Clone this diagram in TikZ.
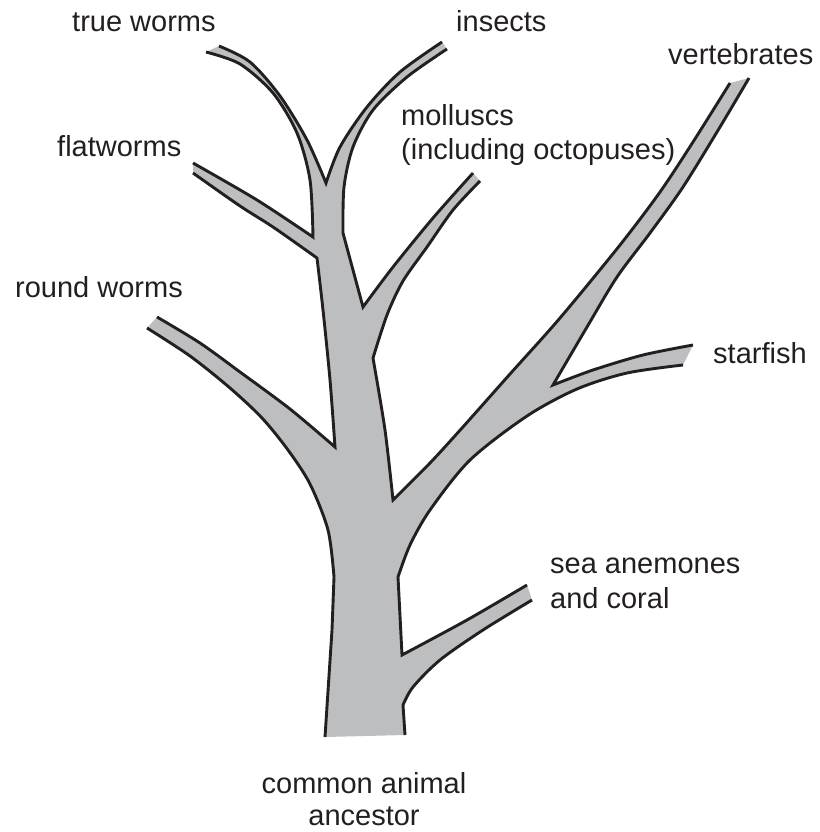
\documentclass[tikz,border=0pt]{standalone}
\usepackage{fontspec}
\setmainfont{Liberation Sans}
\definecolor{treegray}{HTML}{BCBEC0}
\definecolor{ink}{HTML}{231F20}
% edge chains of the tree outline (pixel coordinates, y downwards)
\def\pA{(325,737) -- (332,630) -- plot[smooth] coordinates {(334,577) (328,530) (310,484) (288,450) (262,418) (230,388) (190,356) (147,328)}}
\def\pB{-- plot[smooth] coordinates {(157,317) (200,343) (240,372) (290,409) (335,447)} -- plot[smooth] coordinates {(335,447) (330,380) (323,310) (317,258)} -- plot[smooth] coordinates {(317,258) (273,227) (240,206) (193,173)}}
\def\pC{-- plot[smooth] coordinates {(193,163) (257,200) (313,237)} -- plot[smooth] coordinates {(313,237) (310,180) (297,133) (273,93) (240,64) (206,52)}}
\def\pD{-- plot[smooth] coordinates {(219,46) (250,62) (280,96) (307,140) (326,183)} -- plot[smooth] coordinates {(326,183) (340,147) (367,107) (400,72) (442,42)}}
\def\pE{-- plot[smooth] coordinates {(447,49) (407,77) (373,110) (353,147) (344,187) (343,233)} -- (363,307) -- plot[smooth] coordinates {(363,307) (393,267) (433,218) (473,173)}}
\def\pF{-- plot[smooth] coordinates {(480,181) (453,210) (427,247) (403,281) (387,315) (373,358)} -- plot[smooth] coordinates {(373,358) (385,430) (393,500)} -- plot[smooth] coordinates {(393,500) (430,463) (462,428) (510,374) (560,318) (620,245) (660,192) (693,142) (730,83)}}
\def\pG{-- plot[smooth] coordinates {(749,78) (720,127) (683,187) (650,233) (617,277) (587,327) (553,385)} -- plot[smooth] coordinates {(553,385) (593,370) (643,355) (693,345)}}
\def\pH{-- plot[smooth] coordinates {(683,365) (627,373) (577,389) (527,416) (470,460) (430,510) (410,545) (398,577)} -- (402,655) -- plot[smooth] coordinates {(402,655) (467,620) (527,585)}}
\def\pI{-- plot[smooth] coordinates {(532,600) (483,630) (440,660) (413,687) (403,705)} -- (405,735)}
\begin{document}
\begin{tikzpicture}[x=1pt,y=-1pt,
  treefill/.style={fill=treegray},
  treeline/.style={draw=ink,line width=2.9pt,line join=miter},
  lbl/.style={inner sep=0pt,text=ink,font=\fontsize{29}{35}\selectfont}]
\useasboundingbox (0,0) rectangle (819,832);
\fill[treefill] \pA \pB \pC \pD \pE \pF \pG \pH \pI -- cycle;
\draw[treeline] \pA;
\draw[treeline] (157,317) \pB;
\draw[treeline] (193,163) \pC;
\draw[treeline] (219,46) \pD;
\draw[treeline] (447,49) \pE;
\draw[treeline] (480,181) \pF;
\draw[treeline] (749,78) \pG;
\draw[treeline] (683,365) \pH;
\draw[treeline] (532,600) \pI;
\node[lbl,anchor=base west] (trueworms) at (72,32) {true worms};
\node[lbl,anchor=base west] (insects) at (456,32) {insects};
\node[lbl,anchor=base west] (vertebrates) at (668,65) {vertebrates};
\node[lbl,anchor=base west] (molluscs) at (401,125) {molluscs};
\node[lbl,anchor=base west] (octopuses) at (401,159) {(including octopuses)};
\node[lbl,anchor=base west] (flatworms) at (57,157) {flatworms};
\node[lbl,anchor=base west] (roundworms) at (15,297) {round worms};
\node[lbl,anchor=base west] (starfish) at (713,363) {starfish};
\node[lbl,anchor=base west] (seaanemones) at (550,573) {sea anemones};
\node[lbl,anchor=base west] (coral) at (550,608) {and coral};
\node[lbl,anchor=base] (common) at (364,793) {common animal};
\node[lbl,anchor=base] (ancestor) at (364,825) {ancestor};
\end{tikzpicture}
\end{document}
